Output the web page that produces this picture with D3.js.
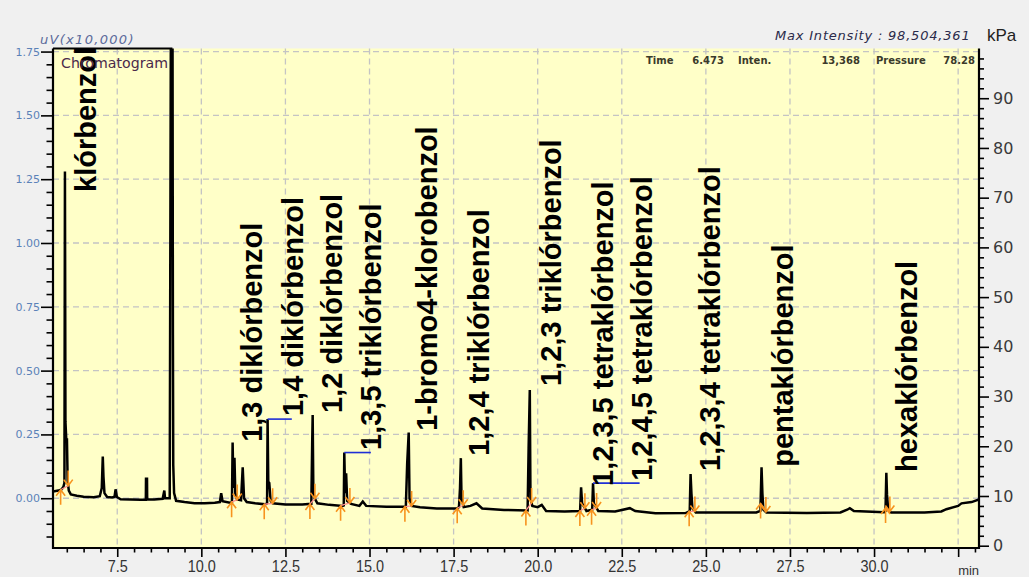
<!DOCTYPE html>
<html><head><meta charset="utf-8">
<script src="https://cdn.jsdelivr.net/npm/d3@7"></script>
<style>
body{margin:0;background:#f0f0f0;}
svg{display:block;}
</style></head>
<body>
<svg id="chart" width="1029" height="577"></svg>
<script>
// ---------- DATA ----------
const traceTime = [5.59,5.75,5.85,5.90,5.93,5.945,5.96,5.985,6.005,6.025,6.06,6.12,6.3,6.5,6.8,6.98,7.04,7.07,7.09,7.12,7.2,7.35,7.42,7.45,7.49,7.6,7.9,8.2,8.35,8.355,8.385,8.39,8.6,8.85,8.9,8.92,9.06,9.10,9.14,9.155,9.165,9.19,9.25,9.5,9.8,10.1,10.4,10.55,10.59,10.63,10.85,10.91,10.93,10.955,10.985,11.01,11.06,11.18,11.23,11.27,11.35,11.6,11.9,11.955,11.97,11.99,12.02,12.06,12.12,12.5,13.0,13.27,13.295,13.31,13.33,13.37,13.45,13.8,14.2,14.235,14.25,14.275,14.305,14.335,14.45,14.7,14.8,14.9,15.5,16.08,16.12,16.165,16.19,16.25,16.5,17.0,17.6,17.66,17.69,17.715,17.735,17.8,18.0,18.18,18.35,19.0,19.7,19.73,19.765,19.785,19.84,20.0,20.12,20.25,20.8,21.26,21.29,21.32,21.45,21.62,21.645,21.67,21.8,22.3,22.74,22.9,23.5,24.4,24.52,24.545,24.57,24.6,24.7,25.5,26.5,26.62,26.655,26.68,26.71,26.8,28.0,29.0,29.2,29.28,29.4,30.3,30.34,30.365,30.385,30.42,30.5,31.5,32.0,32.15,32.5,32.6,32.9,33.12];
const traceSignal = [0.026,0.03,0.035,0.045,0.06,1.28,0.30,0.23,0.23,0.07,0.03,0.015,0.01,0.006,0.004,0.008,0.04,0.163,0.085,0.02,0.005,0.003,0.006,0.035,0.005,-0.004,-0.005,-0.006,-0.006,0.076,0.076,-0.004,-0.005,-0.002,0.03,0.0,0.0,2.2,2.2,0.64,0.13,0.02,-0.01,-0.015,-0.02,-0.02,-0.018,-0.015,0.02,-0.012,-0.018,-0.015,0.218,0.04,0.158,0.02,-0.005,-0.008,0.121,0.0,-0.015,-0.02,-0.024,-0.02,0.31,0.065,0.06,-0.01,-0.02,-0.025,-0.025,-0.022,0.209,0.326,0.02,0.0,-0.02,-0.026,-0.03,-0.028,0.179,0.02,0.098,-0.01,-0.022,-0.03,-0.013,-0.03,-0.033,-0.033,0.137,0.257,0.0,-0.03,-0.035,-0.04,-0.04,-0.035,0.039,0.157,0.0,-0.035,-0.03,-0.02,-0.04,-0.046,-0.048,0.196,0.424,0.0,-0.03,-0.035,-0.026,-0.05,-0.052,-0.05,0.043,-0.02,-0.05,-0.045,0.059,-0.02,-0.05,-0.052,-0.039,-0.05,-0.059,-0.058,-0.05,0.095,0.02,-0.04,-0.056,-0.056,-0.056,-0.05,0.121,0.02,-0.045,-0.056,-0.058,-0.056,-0.045,-0.039,-0.05,-0.055,-0.05,0.10,0.013,-0.045,-0.056,-0.056,-0.052,-0.043,-0.03,-0.02,-0.015,-0.005];

const peakNames = ["klórbenzol","1,3 diklórbenzol","1,4 diklórbenzol","1,2 diklórbenzol","1,3,5 triklórbenzol","1-bromo4-klorobenzol","1,2,4 triklórbenzol","1,2,3 triklórbenzol","1,2,3,5 tetraklórbenzol","1,2,4,5 tetraklórbenzol","1,2,3,4 tetraklórbenzol","pentaklórbenzol","hexaklórbenzol"];
const peakStart = [5.817,10.90,11.87,13.228,14.14,16.052,17.607,19.649,21.254,21.602,24.503,26.626,30.342];
const peakEnd   = [6.043,11.067,12.12,13.377,14.417,16.252,17.786,19.819,21.403,21.751,24.673,26.784,30.47];
// label anchors (data units: retention time, signal)
const labelTime   = [6.882,11.801,13.020,14.179,15.338,17.003,18.549,20.689,22.235,23.394,25.416,27.586,31.272];
const labelSignal = [1.200,0.221,0.322,0.334,0.189,0.264,0.166,0.440,0.048,0.068,0.107,0.123,0.103];
// blue leader lines
const leaderFrom  = [11.97,14.25,21.645];
const leaderTo    = [12.69,15.04,23.03];
const leaderLevel = [0.31,0.179,0.059];

const xMajorTicks = [7.5,10,12.5,15,17.5,20,22.5,25,27.5,30,32.5];
const xTickLabels = ["7.5","10.0","12.5","15.0","17.5","20.0","22.5","25.0","27.5","30.0",""];
const xUnitLabel  = "min";
const yLeftMajor  = [0,0.25,0.5,0.75,1.0,1.25,1.5,1.75];
const yLeftLabels = ["0.00","0.25","0.50","0.75","1.00","1.25","1.50","1.75"];
const yRightMajor = [0,10,20,30,40,50,60,70,80,90];
const yRightLabels= ["0","10","20","30","40","50","60","70","80","90"];

// ---------- LAYOUT ----------
const L = 53, R = 979, T = 48.5, B = 548;
const svg = d3.select("#chart");
const x = d3.scaleLinear().domain([5.59, 33.12]).range([L, R]);
const y = d3.scaleLinear().domain([-0.195, 1.762]).range([B, T]);
const yR = d3.scaleLinear().domain([-0.46, 100]).range([B, T]);

svg.append("rect").attr("width",1029).attr("height",577).attr("fill","#f0f0f0");
svg.append("rect").attr("x",L).attr("y",T).attr("width",R-L).attr("height",B-T).attr("fill","#ffffc8");

svg.append("defs").append("clipPath").attr("id","clip")
  .append("rect").attr("x",L).attr("y",T).attr("width",R-L).attr("height",B-T);

// grid
const grid = svg.append("g").attr("stroke","#c4c4c4").attr("stroke-width",1.3).attr("stroke-dasharray","6,4");
grid.selectAll("line.v").data(xMajorTicks).join("line")
  .attr("x1",d=>x(d)).attr("x2",d=>x(d)).attr("y1",T).attr("y2",B);
grid.selectAll("line.h").data(yLeftMajor).join("line")
  .attr("x1",L).attr("x2",R).attr("y1",d=>y(d)).attr("y2",d=>y(d));

// top bar segment
svg.append("line").attr("x1",L).attr("x2",x(9.14)).attr("y1",T).attr("y2",T)
  .attr("stroke","#000").attr("stroke-width",2);

// trace
const traceData = traceTime.map((t,i)=>[t,traceSignal[i]]);
svg.append("path").datum(traceData).attr("clip-path","url(#clip)")
  .attr("fill","none").attr("stroke","#000").attr("stroke-width",2.5).attr("stroke-linejoin","miter")
  .attr("d", d3.line().x(d=>x(d[0])).y(d=>y(d[1])));

// interpolation on trace
const bis = d3.bisector(d=>d).left;
function sig(t){
  const i = Math.max(1, Math.min(traceTime.length-1, bis(traceTime,t)));
  const t0=traceTime[i-1], t1=traceTime[i];
  return traceSignal[i-1] + (traceSignal[i]-traceSignal[i-1])*(t-t0)/(t1-t0);
}

// baseline (pink) + arrows (orange)
const marks = svg.append("g");
peakStart.forEach((ps,i)=>{
  const pe = peakEnd[i];
  const x0=x(ps), y0=y(sig(ps)), x1=x(pe), y1=y(sig(pe));
  marks.append("line").attr("x1",x0).attr("y1",y0).attr("x2",x1).attr("y2",y1)
    .attr("stroke","#ff8f8f").attr("stroke-width",1.3);
  marks.append("path").attr("d",`M${x0},${y0+15}L${x0},${y0}M${x0-4.5},${y0+6}L${x0},${y0}L${x0+4.5},${y0+6}`)
    .attr("fill","none").attr("stroke","#f7931e").attr("stroke-width",1.6);
  marks.append("path").attr("d",`M${x1},${y1-15}L${x1},${y1}M${x1-4.5},${y1-6}L${x1},${y1}L${x1+4.5},${y1-6}`)
    .attr("fill","none").attr("stroke","#f7931e").attr("stroke-width",1.6);
});

// blue leaders
leaderFrom.forEach((f,i)=>{
  svg.append("line").attr("x1",x(f)).attr("x2",x(leaderTo[i]))
    .attr("y1",y(leaderLevel[i])).attr("y2",y(leaderLevel[i]))
    .attr("stroke","#1f2fd6").attr("stroke-width",1.6);
});

// labels
svg.append("g").selectAll("text").data(peakNames).join("text")
  .attr("transform",(d,i)=>`translate(${x(labelTime[i])},${y(labelSignal[i])}) rotate(-90)`)
  .attr("font-family","'Liberation Sans', Arial, sans-serif")
  .attr("font-weight","bold").attr("font-size",29).attr("fill","#000")
  .text(d=>d);

// axes
const xAxis = svg.append("g").attr("transform",`translate(0,${B})`)
  .call(d3.axisBottom(x).tickValues(xMajorTicks).tickSize(9).tickPadding(3)
        .tickFormat((d,i)=>xTickLabels[i]));
const xMinor = svg.append("g").attr("transform",`translate(0,${B})`)
  .call(d3.axisBottom(x).tickValues(d3.range(6,33.01,0.5).filter(v=>v%2.5!==0)).tickSize(4.5).tickFormat(""));
xAxis.selectAll("text").attr("font-family","'Liberation Sans', Arial, sans-serif")
  .attr("font-size",17).attr("fill","#333").attr("transform","scale(0.85,1)");

const yAxisL = svg.append("g").attr("transform",`translate(${L},0)`)
  .call(d3.axisLeft(y).tickValues(yLeftMajor).tickSize(12).tickPadding(1).tickFormat((d,i)=>yLeftLabels[i]));
const yMinorL = svg.append("g").attr("transform",`translate(${L},0)`)
  .call(d3.axisLeft(y).tickValues(d3.range(-0.15,1.76,0.05).filter(v=>Math.abs(v/0.25-Math.round(v/0.25))>0.01)).tickSize(6.5).tickFormat(""));
yAxisL.selectAll("text").attr("font-family","'DejaVu Sans', sans-serif").attr("font-size",11).attr("fill","#5b82b8");

const yAxisR = svg.append("g").attr("transform",`translate(${R},0)`)
  .call(d3.axisRight(yR).tickValues(yRightMajor).tickSize(10).tickPadding(4).tickFormat((d,i)=>yRightLabels[i]));
const yMinorR = svg.append("g").attr("transform",`translate(${R},0)`)
  .call(d3.axisRight(yR).tickValues(d3.range(2,99,2).filter(v=>v%10!==0)).tickSize(5).tickFormat(""));
yAxisR.selectAll("text").attr("font-family","'DejaVu Sans', sans-serif").attr("font-size",16).attr("fill","#3a3a3a");

[xAxis,xMinor,yAxisL,yMinorL,yAxisR,yMinorR].forEach(g=>{
  g.selectAll(".domain").remove();
  g.selectAll(".tick line").attr("stroke","#000").attr("stroke-width",1.6);
});
// axis lines
svg.append("line").attr("x1",L).attr("x2",L).attr("y1",T).attr("y2",B+1).attr("stroke","#000").attr("stroke-width",2.2);
svg.append("line").attr("x1",R).attr("x2",R).attr("y1",T).attr("y2",B+1).attr("stroke","#000").attr("stroke-width",2.2);
svg.append("line").attr("x1",L-1).attr("x2",R+1).attr("y1",B).attr("y2",B).attr("stroke","#000").attr("stroke-width",2.2);

// unit label "min"
svg.append("text").attr("x",x(32.5)).attr("y",575).attr("font-family","'Liberation Sans', Arial, sans-serif")
  .attr("font-size",13).attr("fill","#333").text(xUnitLabel);

// header texts
svg.append("text").attr("x",40).attr("y",44).attr("font-family","'DejaVu Sans', sans-serif").attr("font-style","italic")
  .attr("font-size",13).attr("letter-spacing",1.3).attr("fill","#5a6a9a").text("uV(x10,000)");
svg.append("text").attr("x",775).attr("y",40).attr("font-family","'DejaVu Sans', sans-serif").attr("font-style","italic")
  .attr("font-size",13).attr("letter-spacing",0.8).attr("fill","#2a2a4a").text("Max Intensity : 98,504,361");
svg.append("text").attr("x",987).attr("y",41).attr("font-family","'Liberation Sans', Arial, sans-serif")
  .attr("font-size",17).attr("fill","#222").text("kPa");
svg.append("text").attr("x",61).attr("y",68).attr("font-family","'DejaVu Sans Condensed','DejaVu Sans', sans-serif")
  .attr("font-size",14).attr("fill","#4a2a4a").attr("textLength",107).attr("lengthAdjust","spacingAndGlyphs").text("Chromatogram");

const hdr = svg.append("g").attr("font-family","'DejaVu Sans', sans-serif").attr("font-size",10).attr("font-weight","bold").attr("fill","#3a3a2a");
hdr.append("text").attr("x",646).attr("y",64).text("Time");
hdr.append("text").attr("x",724).attr("y",64).attr("text-anchor","end").text("6.473");
hdr.append("text").attr("x",738).attr("y",64).text("Inten.");
hdr.append("text").attr("x",860).attr("y",64).attr("text-anchor","end").text("13,368");
hdr.append("text").attr("x",876).attr("y",64).text("Pressure");
hdr.append("text").attr("x",975).attr("y",64).attr("text-anchor","end").text("78.28");
</script>
</body></html>
